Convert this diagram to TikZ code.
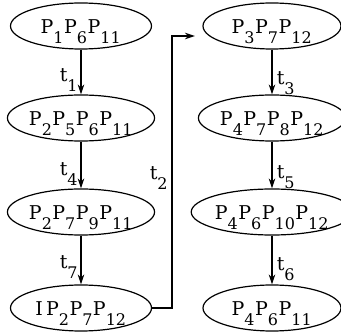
\documentclass[tikz,border=0pt]{standalone}
\usepackage{fontspec}
\setmainfont{DejaVu Serif}
\usetikzlibrary{shapes.geometric,arrows.meta}
\newcommand\dg[1]{\raisebox{-10pt}{\fontsize{16}{18}\selectfont#1}\kern0.5pt}
\tikzset{
  st/.style={ellipse,draw,line width=1.2pt,minimum width=141pt,minimum height=46pt,
    inner sep=0pt,font=\fontsize{19}{22}\selectfont,text height=22pt,text depth=6pt},
  arr/.style={line width=1.4pt,-{Stealth[length=10pt,width=6.5pt]}},
  lbl/.style={font=\fontsize{19}{22}\selectfont,inner sep=0pt}
}
\begin{document}
\begin{tikzpicture}[x=1pt,y=-1pt]
\useasboundingbox (0,0) rectangle (341,334);
% left column
\node[st] (a1) at (81,26)  {P\dg{1}P\dg{6}P\dg{11}};
\node[st] (a2) at (81,118) {P\dg{2}P\dg{5}P\dg{6}P\dg{11}};
\node[st] (a3) at (81,212) {P\dg{2}P\dg{7}P\dg{9}P\dg{11}};
\node[st] (a4) at (81,308) {I\,P\dg{2}P\dg{7}P\dg{12}};
% right column
\node[st,minimum width=138pt] (b1) at (272,26)  {P\dg{3}P\dg{7}P\dg{12}};
\node[st,minimum width=138pt] (b2) at (272,118) {P\dg{4}P\dg{7}P\dg{8}P\dg{12}};
\node[st,minimum width=138pt] (b3) at (272,212) {P\dg{4}P\dg{6}P\dg{10}P\dg{12}};
\node[st,minimum width=138pt] (b4) at (272,308) {P\dg{4}P\dg{6}P\dg{11}};
% arrows
\draw[arr] (a1) -- (a2);
\draw[arr] (a2) -- (a3);
\draw[arr] (a3) -- (a4);
\draw[arr] (b1) -- (b2);
\draw[arr] (b2) -- (b3);
\draw[arr] (b3) -- (b4);
% labels
\node[lbl] (l1) at (69,80)  {t\dg{1}};
\node[lbl] (l4) at (69,174) {t\dg{4}};
\node[lbl] (l7) at (69,267) {t\dg{7}};
\node[lbl] (l3) at (286,83)  {t\dg{3}};
\node[lbl] (l5) at (286,177) {t\dg{5}};
\node[lbl] (l6) at (286,269) {t\dg{6}};
\node[lbl] (l2) at (159,178) {t\dg{2}};
% t2 connector
\coordinate (tt) at (195,36);
\draw[arr] (a4.east) -| (172,36) -- (tt);
\end{tikzpicture}
\end{document}
